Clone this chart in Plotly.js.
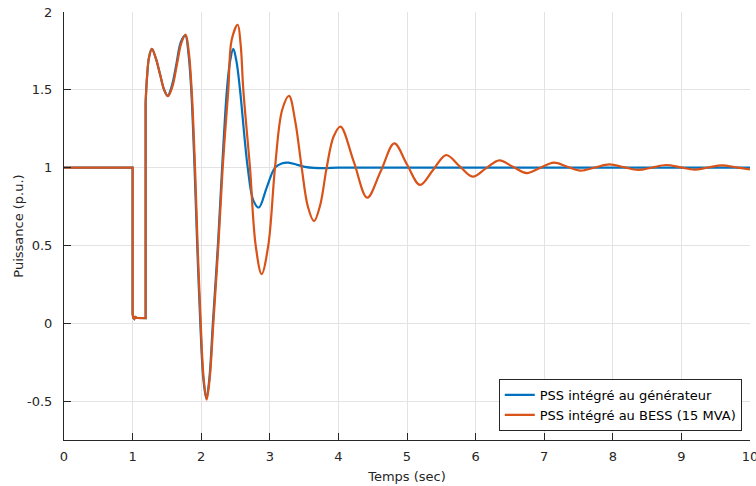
<!DOCTYPE html>
<html>
<head>
<meta charset="utf-8">
<script src="https://cdn.plot.ly/plotly-3.0.1.min.js"></script>
<style>html,body{margin:0;padding:0;background:#fff;}#chart{width:756px;height:486px;}</style>
</head>
<body>
<div id="chart"></div>
<script>
// ---- data ----
const seriesNames = ['PSS intégré au générateur', 'PSS intégré au BESS (15 MVA)'];

// fault / step portion (identical for both cases)
const stepT = [0, 1.0, 1.0, 1.01, 1.025, 1.04, 1.06, 1.12, 1.19, 1.19];
const stepP = [1, 1, 0.06, 0.035, 0.028, 0.04, 0.035, 0.034, 0.033, 1.417];

// PSS on generator (blue)
const genT = [1.19, 1.21, 1.24, 1.28, 1.34, 1.40, 1.46, 1.51, 1.575, 1.64, 1.705, 1.768, 1.815, 1.855, 1.903, 1.942, 1.987, 2.03, 2.075, 2.12, 2.17, 2.243, 2.305, 2.375, 2.42, 2.468, 2.515, 2.566, 2.678, 2.76, 2.84, 2.955, 3.076, 3.173, 3.27, 3.4, 3.51, 3.65, 3.8, 4.0, 5.0, 6.0, 7.0, 8.0, 9.0, 10.0];
const genP = [1.417, 1.58, 1.71, 1.763, 1.70, 1.60, 1.50, 1.462, 1.53, 1.67, 1.81, 1.85, 1.73, 1.5, 1.0, 0.5, 0.0, -0.35, -0.485, -0.35, 0.0, 0.5, 1.0, 1.5, 1.68, 1.763, 1.68, 1.5, 1.0, 0.79, 0.744, 0.872, 1.0, 1.027, 1.032, 1.018, 1.005, 0.998, 0.997, 1.0, 1.0, 1.0, 1.0, 1.0, 1.0, 1.0];

// PSS on BESS 15 MVA (orange)
const bessT = [1.19, 1.21, 1.24, 1.283, 1.34, 1.40, 1.46, 1.516, 1.58, 1.645, 1.71, 1.774, 1.82, 1.861, 1.91, 1.948, 1.993, 2.035, 2.08, 2.125, 2.177, 2.25, 2.313, 2.395, 2.444, 2.532, 2.575, 2.614, 2.711, 2.794, 2.881, 2.978, 3.076, 3.18, 3.28, 3.37, 3.465, 3.555, 3.644, 3.735, 3.829, 3.93, 4.03, 4.225, 4.42, 4.62, 4.815, 5.0, 5.19, 5.38, 5.57, 5.765, 5.957, 6.15, 6.346, 6.545, 6.745, 6.94, 7.14, 7.335, 7.53, 7.74, 7.95, 8.16, 8.37, 8.575, 8.78, 8.985, 9.19, 9.39, 9.59, 9.8, 10.0];
const bessP = [1.417, 1.58, 1.71, 1.763, 1.70, 1.60, 1.50, 1.459, 1.52, 1.66, 1.80, 1.854, 1.74, 1.5, 1.0, 0.5, 0.0, -0.35, -0.49, -0.35, 0.0, 0.5, 1.0, 1.5, 1.82, 1.918, 1.79, 1.5, 1.0, 0.5, 0.316, 0.5, 1.0, 1.37, 1.461, 1.3, 1.0, 0.75, 0.656, 0.76, 1.0, 1.2, 1.264, 1.037, 0.807, 0.98, 1.156, 1.02, 0.889, 0.985, 1.081, 1.01, 0.942, 0.995, 1.047, 1.005, 0.965, 0.998, 1.032, 1.006, 0.981, 1.001, 1.021, 1.003, 0.985, 1.001, 1.017, 1.002, 0.987, 1.001, 1.015, 1.002, 0.989];

const xTickVals = [0, 1, 2, 3, 4, 5, 6, 7, 8, 9, 10];
const xTickText = ['0', '1', '2', '3', '4', '5', '6', '7', '8', '9', '10'];
const yTickVals = [-0.5, 0, 0.5, 1, 1.5, 2];
const yTickText = ['-0.5', '0', '0.5', '1', '1.5', '2'];

const xTitle = 'Temps (sec)';
const yTitle = 'Puissance (p.u.)';

// ---- styling ----
const blue = '#0072BD';
const orange = '#D95319';
const ink = '#262626';
const gridC = '#e3e3e3';
const fontFam = '"DejaVu Sans", Verdana, sans-serif';
const fs = 13;
const lw = 2.2;

const traces = [
  {x: stepT, y: stepP, mode: 'lines', line: {color: blue, width: lw}, legendgroup: 'g', showlegend: false, hoverinfo: 'skip'},
  {x: genT, y: genP, mode: 'lines', name: seriesNames[0], line: {color: blue, width: lw, shape: 'spline', smoothing: 1}, legendgroup: 'g'},
  {x: stepT, y: stepP, mode: 'lines', line: {color: orange, width: lw}, legendgroup: 'b', showlegend: false, hoverinfo: 'skip'},
  {x: bessT, y: bessP, mode: 'lines', name: seriesNames[1], line: {color: orange, width: lw, shape: 'spline', smoothing: 1}, legendgroup: 'b'}
];

const axisCommon = {
  showline: true, linecolor: ink, linewidth: 1,
  ticks: 'inside', ticklen: 7, tickwidth: 1, tickcolor: ink,
  showgrid: true, gridcolor: gridC, gridwidth: 1,
  zeroline: false, tickmode: 'array', ticklabeloverflow: 'allow',
  tickfont: {family: fontFam, size: fs, color: ink}
};

const layout = {
  width: 756, height: 486,
  margin: {l: 64, r: 6, t: 12, b: 46},
  paper_bgcolor: '#fff', plot_bgcolor: '#fff',
  font: {family: fontFam, size: fs, color: ink},
  showlegend: true,
  xaxis: Object.assign({}, axisCommon, {
    range: [0, 10], tickvals: xTickVals, ticktext: xTickText,
    ticklabelstandoff: 4,
    title: {text: xTitle, font: {family: fontFam, size: fs, color: ink}, standoff: 9}
  }),
  yaxis: Object.assign({}, axisCommon, {
    range: [-0.75, 2], tickvals: yTickVals, ticktext: yTickText,
    ticklabelstandoff: 8,
    title: {text: yTitle, font: {family: fontFam, size: fs, color: ink}, standoff: 0}
  }),
  legend: {
    x: 0.988, y: 0.021, xanchor: 'right', yanchor: 'bottom',
    bgcolor: '#fff', bordercolor: ink, borderwidth: 1,
    font: {family: fontFam, size: fs, color: '#000'},
    tracegroupgap: 0, itemwidth: 30
  }
};

Plotly.newPlot('chart', traces, layout, {displayModeBar: false, staticPlot: true});
</script>
</body>
</html>
